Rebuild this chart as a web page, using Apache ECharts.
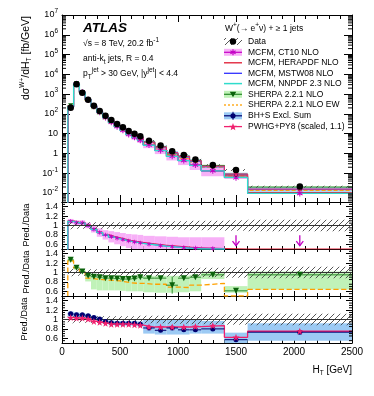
<!DOCTYPE html>
<html><head><meta charset="utf-8">
<script src="https://cdn.jsdelivr.net/npm/echarts@6/dist/echarts.min.js"></script>
<style>html,body{margin:0;padding:0;background:#fff}#c{width:374px;height:396px}</style>
</head><body><div id="c"></div>
<script>
// ---------------- data ----------------
const binEdges = [50,100,150,200,250,300,350,400,450,500,550,600,650,700,800,900,1000,1100,1200,1400,1600,2500];
const dataVals = [205,3160,1170,525,260,141,81,49,31,21,13.7,10,7.4,4.4,2.5,1.3,0.83,0.50,0.26,0.146,0.021];
const dataRelErr = [0.08,0.07,0.07,0.07,0.07,0.07,0.07,0.07,0.07,0.07,0.07,0.07,0.08,0.08,0.08,0.09,0.09,0.10,0.10,0.11,0.12];

const mcfmCT10 = [1.09,1.06,1.06,1.00,0.92,0.85,0.80,0.76,0.73,0.70,0.67,0.65,0.63,0.60,0.57,0.55,0.53,0.52,0.51,0.40,0.45];
const mcfmCT10Unc = [0.05,0.05,0.05,0.06,0.07,0.09,0.10,0.12,0.13,0.14,0.15,0.16,0.17,0.18,0.20,0.21,0.22,0.23,0.24,null,null];
const mcfmHERA = [1.10,1.07,1.06,1.01,0.93,0.86,0.81,0.77,0.74,0.71,0.68,0.66,0.64,0.61,0.58,0.56,0.54,0.52,0.51,0.50,0.50];
const mcfmMSTW = [1.08,1.05,1.05,0.99,0.91,0.85,0.79,0.75,0.72,0.69,0.66,0.64,0.62,0.59,0.56,0.54,0.52,0.51,0.50,0.42,0.46];
const mcfmNNPDF = [1.09,1.06,1.05,0.99,0.92,0.85,0.80,0.75,0.72,0.69,0.66,0.64,0.62,0.59,0.56,0.54,0.52,0.50,0.50,0.42,0.46];

const sherpaNLO = [1.27,1.10,1.02,0.93,0.91,0.90,0.88,0.88,0.87,0.86,0.86,0.87,0.90,0.88,0.88,0.73,0.88,0.90,0.95,0.61,0.95];
const sherpaErr = [0.02,0.01,0.01,0.01,0.01,0.01,0.01,0.01,0.01,0.01,0.01,0.01,0.02,0.02,0.03,0.18,0.03,0.03,0.04,0.05,0.04];
const sherpaUp = [1.30,1.13,1.05,0.98,0.94,0.93,0.93,0.93,0.93,0.93,0.93,0.93,0.94,0.93,0.93,0.93,0.93,0.95,1.02,0.71,1.02];
const sherpaLo = [1.22,1.06,0.98,0.81,0.64,0.62,0.62,0.62,0.62,0.61,0.60,0.60,0.60,0.58,0.57,0.57,0.58,0.60,0.86,0.57,0.64];
const sherpaEW = [1.25,1.10,1.01,0.88,0.86,0.85,0.84,0.83,0.82,0.80,0.78,0.77,0.77,0.75,0.75,0.69,0.68,0.73,0.77,0.50,0.64];

const bhs = [1.12,1.10,1.10,1.08,1.04,1.01,0.96,0.93,0.92,0.92,0.92,0.92,0.90,0.82,0.77,0.82,0.78,0.78,0.80,0.57,0.73];
const bhsErr = [0.02,0.01,0.01,0.01,0.01,0.01,0.01,0.01,0.01,0.01,0.01,0.01,0.02,0.03,0.03,0.03,0.03,0.04,0.04,0.05,0.04];
const bhsUp = [1.17,1.15,1.14,1.12,1.08,1.05,1.01,0.98,0.97,0.97,0.97,0.97,0.96,1.00,1.00,1.00,1.00,1.00,0.97,0.72,0.92];
const bhsLo = [1.06,1.05,1.05,1.03,0.99,0.96,0.91,0.88,0.87,0.87,0.87,0.87,0.85,0.70,0.68,0.68,0.68,0.70,0.70,0.45,0.55];

const pwhg = [1.04,1.03,1.03,1.01,0.96,0.94,0.92,0.90,0.90,0.90,0.90,0.89,0.88,0.84,0.84,0.84,0.84,0.85,0.87,0.62,0.75];
const pwhgErr = [0.02,0.01,0.01,0.01,0.01,0.01,0.01,0.01,0.01,0.01,0.01,0.01,0.01,0.02,0.02,0.02,0.02,0.02,0.03,0.03,0.03];

const xTicks = [0,500,1000,1500,2000,2500];
const ratioTicks = [0.6,0.8,1.0,1.2,1.4];

// ---------------- helpers ----------------
const FONT = '"Liberation Sans", Arial, sans-serif';
const C = {ct10:'#c400c4', ct10band:'#f7b0f7', hera:'#e01830', mstw:'#3030ff', nnpdf:'#2fdccc',
  sh:'#0b620b', shLine:'#2a8a2a', shBand:'#c0f2b8', ew:'#ffa000', bhs:'#000070', bhsBand:'#9ccaf4', pw:'#f0206e'};
const nB = dataVals.length;
const centers = binEdges.slice(0,-1).map((e,i)=>(e+binEdges[i+1])/2);

function makeHatch(color){
  const c=document.createElement('canvas');c.width=6;c.height=6;const g=c.getContext('2d');
  g.strokeStyle=color;g.lineWidth=0.9;g.beginPath();
  g.moveTo(0,6);g.lineTo(6,0);g.moveTo(-1,1);g.lineTo(1,-1);g.moveTo(5,7);g.lineTo(7,5);g.stroke();return c;
}
const hatch = {image:makeHatch('#444'), repeat:'repeat'};

function starPath(){let s='path://';for(let k=0;k<10;k++){const a=-Math.PI/2+k*Math.PI/5;const r=k%2?0.42:1;s+=(k?'L':'M')+(r*Math.cos(a)).toFixed(3)+','+(r*Math.sin(a)).toFixed(3);}return s+'Z';}
function asteriskPath(){let s='path://';[90,30,-30].forEach(d=>{const a=d*Math.PI/180, w=0.16;const ux=Math.cos(a),uy=Math.sin(a),px=-uy*w,py=ux*w;
  const pts=[[ux+px,uy+py],[ux-px,uy-py],[-ux-px,-uy-py],[-ux+px,-uy+py]];s+='M'+pts.map(p=>p[0].toFixed(3)+','+p[1].toFixed(3)).join('L')+'Z';});return s;}
const STAR = starPath(), AST = asteriskPath(), TRI = 'path://M0,0L2,0L1,1.7Z';

function stepPts(vals, start){const pts=[];if(start!=null)pts.push([binEdges[0],start]);
  vals.forEach((v,i)=>{pts.push([binEdges[i],v]);pts.push([binEdges[i+1],v]);});return pts;}

function clipRect(shape,p){return echarts.graphic.clipRectByRect(shape,{x:p.coordSys.x,y:p.coordSys.y,width:p.coordSys.width,height:p.coordSys.height});}

function bandSeries(g, lo, hi, fill, z){
  const data=[];for(let i=0;i<nB;i++){if(lo[i]==null||hi[i]==null)continue;data.push([binEdges[i],binEdges[i+1],lo[i],hi[i]]);}
  return {type:'custom', xAxisIndex:2*g, yAxisIndex:2*g, z:z, silent:true, data:data,
    renderItem:(p,api)=>{const a=api.coord([api.value(0),api.value(3)]);const b=api.coord([api.value(1),api.value(2)]);
      const sh=clipRect({x:a[0],y:a[1],width:b[0]-a[0],height:b[1]-a[1]},p);
      return sh?{type:'rect',shape:sh,style:{fill:fill}}:null;}};
}
function lineSeries(g, pts, color, width, z, dash){
  return {type:'line', xAxisIndex:2*g, yAxisIndex:2*g, data:pts, symbol:'none', clip:true, z:z, silent:true,
    lineStyle:{color:color,width:width,type:dash||'solid'}};
}
function errSeries(g, vals, errs, color, horiz, z, ymin, ymax){
  const data=[];for(let i=0;i<nB;i++){if(vals[i]<ymin||vals[i]>ymax)continue;data.push([centers[i],vals[i],vals[i]-errs[i],vals[i]+errs[i],binEdges[i],binEdges[i+1]]);}
  return {type:'custom', xAxisIndex:2*g, yAxisIndex:2*g, z:z, silent:true, data:data,
    renderItem:(p,api)=>{const a=api.coord([api.value(0),Math.max(api.value(2),ymin)]),b=api.coord([api.value(0),Math.min(api.value(3),ymax)]);
      const ch=[{type:'line',shape:{x1:a[0],y1:a[1],x2:b[0],y2:b[1]},style:{stroke:color,lineWidth:1}}];
      if(horiz){const l=api.coord([api.value(4),api.value(1)]),r=api.coord([api.value(5),api.value(1)]);
        ch.push({type:'line',shape:{x1:l[0],y1:l[1],x2:r[0],y2:r[1]},style:{stroke:color,lineWidth:1}});}
      return {type:'group',children:ch};}};
}
function markSeries(g, vals, sym, size, color, z, ymin, ymax){
  const data=[];for(let i=0;i<nB;i++){if(vals[i]<ymin||vals[i]>ymax)continue;data.push([centers[i],vals[i]]);}
  return {type:'scatter', xAxisIndex:2*g, yAxisIndex:2*g, data:data, symbol:sym, symbolSize:size, z:z, silent:true,
    itemStyle:{color:color, opacity:1}};
}
const mul = (r)=>r.map((v,i)=>v*dataVals[i]);

// ---------------- axes ----------------
const grids = [
  {left:62, top:15, width:290, height:187},
  {left:62, top:202, width:290, height:47},
  {left:62, top:249, width:290, height:47},
  {left:62, top:296, width:290, height:47}
].map(g=>Object.assign(g,{containLabel:false, outerBoundsMode:'none', show:false}));

const axLine = {show:true, onZero:false, lineStyle:{color:'#000', width:1}};
const xAxes=[], yAxes=[];
const MAIN_MIN = 0.0035, MAIN_MAX = 1e7;
grids.forEach((g,gi)=>{
  ['bottom','top'].forEach(pos=>{
    xAxes.push({gridIndex:gi, type:'value', position:pos, min:xTicks[0], max:xTicks[xTicks.length-1], interval:500,
      axisLine:axLine, axisTick:{show:true, inside:true, length:gi===0?7:5, lineStyle:{color:'#000'}},
      minorTick:{show:true, splitNumber:5, length:gi===0?4:3, lineStyle:{color:'#000'}},
      splitLine:{show:false}, minorSplitLine:{show:false},
      axisLabel:{show:(gi===3 && pos==='bottom'), color:'#000', fontSize:10, fontFamily:FONT, margin:4,
        formatter:v=>xTicks.indexOf(v)>=0?String(v):''}});
  });
  ['left','right'].forEach(pos=>{
    if(gi===0){
      yAxes.push({gridIndex:0, type:'log', logBase:10, position:pos, min:MAIN_MIN, max:MAIN_MAX, splitNumber:10,
        axisLine:axLine, axisTick:{show:true, inside:true, length:8, lineStyle:{color:'#000'}},
        minorTick:{show:false}, splitLine:{show:false},
        axisLabel:{show:pos==='left', color:'#000', fontSize:9, fontFamily:FONT, margin:4,
          formatter:v=>{const e=Math.log10(v), r=Math.round(e); if(Math.abs(e-r)>0.01) return '';
            if(r===0) return '1'; if(r===1) return '10'; return '10{s|'+r+'}';},
          rich:{s:{fontSize:6.5, fontFamily:FONT, color:'#000', padding:[0,0,7,0]}}}});
    } else {
      yAxes.push({gridIndex:gi, type:'value', position:pos, min:0.5, max:1.5, interval:0.1,
        axisLine:axLine, axisTick:{show:true, inside:true, length:6, customValues:ratioTicks, lineStyle:{color:'#000'}},
        minorTick:{show:false}, splitLine:{show:false}, minorSplitLine:{show:false},
        axisLabel:{show:pos==='left', customValues:ratioTicks, color:'#000', fontSize:9, fontFamily:FONT, margin:4,
          formatter:v=>String(+(+v).toFixed(1))}});
    }
  });
});

// ---------------- series ----------------
const S = [];
// log minor ticks for main y axis (decoration)
const logMinor=[];for(let k=-3;k<7;k++)for(let m=2;m<=9;m++){const v=m*Math.pow(10,k);if(v>MAIN_MIN&&v<MAIN_MAX)logMinor.push([1000,v]);}
function tickSeries(g, vals, len){
  return {type:'custom', xAxisIndex:2*g, yAxisIndex:2*g, z:20, silent:true, data:vals,
    renderItem:(p,api)=>{const y=api.coord([api.value(0),api.value(1)])[1];const x0=p.coordSys.x,x1=x0+p.coordSys.width;
      return {type:'group',children:[{type:'line',shape:{x1:x0,y1:y,x2:x0+len,y2:y},style:{stroke:'#000',lineWidth:1}},
        {type:'line',shape:{x1:x1-len,y1:y,x2:x1,y2:y},style:{stroke:'#000',lineWidth:1}}]};}};
}
S.push(tickSeries(0, logMinor, 4));
const ratioMinor=[];for(let k=11;k<30;k++){const v=k*0.05;if(Math.abs(v*10-Math.round(v*10))>1e-6||Math.round(v*10)%2===1)ratioMinor.push([1000,v]);}
[1,2,3].forEach(g=>S.push(tickSeries(g, ratioMinor, 3)));

// main panel
const ct10Lo = mcfmCT10.map((v,i)=>mcfmCT10Unc[i]==null?null:v-mcfmCT10Unc[i]);
const ct10Hi = mcfmCT10.map((v,i)=>mcfmCT10Unc[i]==null?null:v+mcfmCT10Unc[i]);
S.push(bandSeries(0, mul(sherpaLo), mul(sherpaUp), C.shBand, 1));
S.push(bandSeries(0, mul(bhsLo), mul(bhsUp), C.bhsBand, 1));
S.push(bandSeries(0, mul(ct10Lo.map(v=>v==null?null:Math.max(v,0.01))), mul(ct10Hi), C.ct10band, 1));
S.push(lineSeries(0, stepPts(mul(sherpaEW),1e-4), C.ew, 1, 3, 'dashed'));
S.push(lineSeries(0, stepPts(mul(sherpaNLO),1e-4), C.shLine, 1, 3));
S.push(lineSeries(0, stepPts(mul(bhs),1e-4), '#3a6fd0', 1, 3));
S.push(lineSeries(0, stepPts(mul(mcfmMSTW),1e-4), C.mstw, 1, 3));
S.push(lineSeries(0, stepPts(mul(mcfmHERA),1e-4), C.hera, 1, 3));
S.push(lineSeries(0, stepPts(mul(mcfmCT10),1e-4), C.ct10, 1, 3));
S.push(lineSeries(0, stepPts(mul(pwhg),1e-4), C.pw, 1, 3));
S.push(lineSeries(0, stepPts(mul(mcfmNNPDF),1e-4), C.nnpdf, 1.3, 3));
S.push(markSeries(0, mul(mcfmCT10), AST, 6, C.ct10, 4, 0, 1e9));
S.push(markSeries(0, mul(sherpaNLO), TRI, 5, C.sh, 4, 0, 1e9));
S.push(markSeries(0, mul(bhs), 'circle', 4, C.bhs, 4, 0, 1e9));
S.push(markSeries(0, mul(pwhg), STAR, 6, C.pw, 4, 0, 1e9));
S.push(bandSeries(0, dataVals.map((v,i)=>v*(1-dataRelErr[i])), dataVals.map((v,i)=>v*(1+dataRelErr[i])), hatch, 6));
S.push(markSeries(0, dataVals, 'circle', 6.5, '#000', 7, 0, 1e9));

// ratio helpers
const hatchLo = dataRelErr.map(e=>1-e), hatchHi = dataRelErr.map(e=>1+e);
function unityLine(g){return {type:'line', xAxisIndex:2*g, yAxisIndex:2*g, data:[[xTicks[0],1],[xTicks[xTicks.length-1],1]], symbol:'none', z:6, silent:true, lineStyle:{color:'#333',width:1}};}

// panel 1 : MCFM
S.push(bandSeries(1, ct10Lo, ct10Hi, C.ct10band, 1));
S.push(lineSeries(1, stepPts(mcfmMSTW,0), C.mstw, 1, 3));
S.push(lineSeries(1, stepPts(mcfmHERA,0), C.hera, 1, 3));
S.push(lineSeries(1, stepPts(mcfmCT10,0), C.ct10, 1, 3));
S.push(lineSeries(1, stepPts(mcfmNNPDF,0), C.nnpdf, 1.3, 3));
S.push(errSeries(1, mcfmCT10, mcfmCT10Unc.map(v=>v==null?0:0.02), C.ct10, false, 4, 0.5, 1.5));
S.push(markSeries(1, mcfmCT10, AST, 4.5, C.ct10, 4, 0.5, 1.5));
S.push({type:'custom', xAxisIndex:2, yAxisIndex:2, z:8, silent:true,
  data: centers.map((c,i)=>[c, mcfmCT10[i]]).filter(d=>d[1]<0.5),
  renderItem:(p,api)=>{const x=api.value(0);const a=api.coord([x,0.79]),b=api.coord([x,0.57]);
    return {type:'group',children:[{type:'line',shape:{x1:a[0],y1:a[1],x2:b[0],y2:b[1]},style:{stroke:C.ct10,lineWidth:1.3}},
      {type:'polyline',shape:{points:[[b[0]-3.5,b[1]-4.5],[b[0],b[1]],[b[0]+3.5,b[1]-4.5]]},style:{stroke:C.ct10,fill:null,lineWidth:1.3}}]};}});
S.push(bandSeries(1, hatchLo, hatchHi, hatch, 5));
S.push(unityLine(1));

// panel 2 : SHERPA
S.push(bandSeries(2, sherpaLo, sherpaUp, C.shBand, 1));
S.push(lineSeries(2, stepPts(sherpaEW,0), C.ew, 1.3, 3, 'dashed'));
S.push(bandSeries(2, hatchLo, hatchHi, hatch, 5));
S.push(unityLine(2));
S.push(errSeries(2, sherpaNLO, sherpaErr, C.shLine, true, 7, 0.5, 1.5));
S.push(markSeries(2, sherpaNLO, TRI, 6, C.sh, 8, 0.5, 1.5));

// panel 3 : BH+S, PWHG
S.push(bandSeries(3, bhsLo, bhsUp, C.bhsBand, 1));
S.push(bandSeries(3, hatchLo, hatchHi, hatch, 5));
S.push(unityLine(3));
S.push(lineSeries(3, stepPts(pwhg,null), C.pw, 1.3, 6));
S.push(errSeries(3, bhs, bhsErr, C.bhs, true, 7, 0.5, 1.5));
S.push(markSeries(3, bhs, 'circle', 5, C.bhs, 8, 0.5, 1.5));
S.push(errSeries(3, pwhg, pwhgErr, C.pw, false, 9, 0.5, 1.5));
S.push(markSeries(3, pwhg, STAR, 7, C.pw, 9, 0.5, 1.5));

// ---------------- text / legend ----------------
const sup = {fontSize:6.5, fontFamily:FONT, fill:'#000', padding:[0,0,7,0]};
const sub = {fontSize:6.5, fontFamily:FONT, fill:'#000', padding:[6,0,0,0]};
function txt(x,y,text,size,extra){return Object.assign({type:'text', x:x, y:y, z:100, silent:true,
  style:{text:text, fontSize:size, fontFamily:FONT, fill:'#000', verticalAlign:'middle', align:'left', rich:{sup:sup, sub:sub}}}, extra||{});}
const G = [];
G.push({type:'text', x:83, y:28, z:100, silent:true, style:{text:'ATLAS', fontSize:13.5, fontFamily:FONT, fontWeight:'bold', fontStyle:'italic', fill:'#000', verticalAlign:'middle'}});
G.push(txt(83,44,'√s = 8 TeV, 20.2 fb{sup|-1}',8.5));
G.push(txt(83,59,'anti-k{sub|t} jets, R = 0.4',8.5));
G.push(txt(83,74,'p{sub|T}{sup|jet} > 30 GeV, |y{sup|jet}| < 4.4',8.5));
G.push(Object.assign(txt(26,58,'dσ{sup|W+}/dH{sub|T} [fb/GeV]',10.5),{rotation:Math.PI/2}));
G[G.length-1].style.align='center';
[[27,225],[27,272],[25,319]].forEach(p=>{const t=txt(p[0],p[1],'Pred./Data',9);t.rotation=Math.PI/2;t.style.align='center';G.push(t);});
G.push(txt(352,370,'H{sub|T} [GeV]',10));G[G.length-1].style.align='right';

// legend
G.push(txt(225,29,'W{sup|+}(→ e{sup|+}ν) + ≥ 1 jets',8.5));
const LX0=224, LX1=242, LXC=233, LTX=248;
const legY=[41.5,52.3,62.8,73.3,83.6,94.3,105,115.8,126.6];
const legT=['Data','MCFM, CT10 NLO','MCFM, HERAPDF NLO','MCFM, MSTW08 NLO','MCFM, NNPDF 2.3 NLO','SHERPA 2.2.1 NLO','SHERPA 2.2.1 NLO EW','BH+S Excl. Sum','PWHG+PY8 (scaled, 1.1)'];
legT.forEach((t,i)=>G.push(txt(LTX,legY[i],t,8.5)));
function lrect(y,fill){return {type:'rect',z:99,silent:true,shape:{x:LX0,y:y-3.5,width:LX1-LX0,height:7},style:{fill:fill}};}
function lline(y,color,w,dash){return {type:'line',z:99,silent:true,shape:{x1:LX0,y1:y,x2:LX1,y2:y},style:{stroke:color,lineWidth:w||1,lineDash:dash||null}};}
function star(cx,cy,r,color){const pts=[];for(let k=0;k<10;k++){const a=-Math.PI/2+k*Math.PI/5;const rr=k%2?r*0.42:r;pts.push([cx+rr*Math.cos(a),cy+rr*Math.sin(a)]);}
  return {type:'polygon',z:99,silent:true,shape:{points:pts},style:{fill:color}};}
G.push(lrect(legY[0],hatch));
G.push({type:'circle',z:99,silent:true,shape:{cx:LXC,cy:legY[0],r:3.2},style:{fill:'#000'}});
G.push(lrect(legY[1],C.ct10band)); G.push(lline(legY[1],C.ct10,1.2));
[0,60,120].forEach(d=>{const a=d*Math.PI/180;G.push({type:'line',z:99,silent:true,shape:{x1:LXC-3*Math.sin(a),y1:legY[1]-3*Math.cos(a),x2:LXC+3*Math.sin(a),y2:legY[1]+3*Math.cos(a)},style:{stroke:C.ct10,lineWidth:1.2}});});
G.push(lline(legY[2],C.hera,1.3));
G.push(lline(legY[3],C.mstw,1.3));
G.push(lline(legY[4],C.nnpdf,1.5));
G.push(lrect(legY[5],C.shBand)); G.push(lline(legY[5],C.shLine,1.2));
G.push({type:'polygon',z:99,silent:true,shape:{points:[[LXC-3.2,legY[5]-2.5],[LXC+3.2,legY[5]-2.5],[LXC,legY[5]+3]]},style:{fill:C.sh}});
G.push(lline(legY[6],C.ew,1.3,[2,2]));
G.push(lrect(legY[7],C.bhsBand)); G.push(lline(legY[7],C.bhs,1.2));
G.push({type:'line',z:99,silent:true,shape:{x1:LXC,y1:legY[7]-4,x2:LXC,y2:legY[7]+4},style:{stroke:C.bhs,lineWidth:1}});
G.push({type:'circle',z:99,silent:true,shape:{cx:LXC,cy:legY[7],r:2.6},style:{fill:C.bhs}});
G.push(lline(legY[8],C.pw,1.3)); G.push(star(LXC,legY[8]+0.5,4,C.pw));

const chart = echarts.init(document.getElementById('c'), null, {renderer:'canvas'});
chart.setOption({animation:false, backgroundColor:'#fff', grid:grids, xAxis:xAxes, yAxis:yAxes, series:S, graphic:G});
</script></body></html>
